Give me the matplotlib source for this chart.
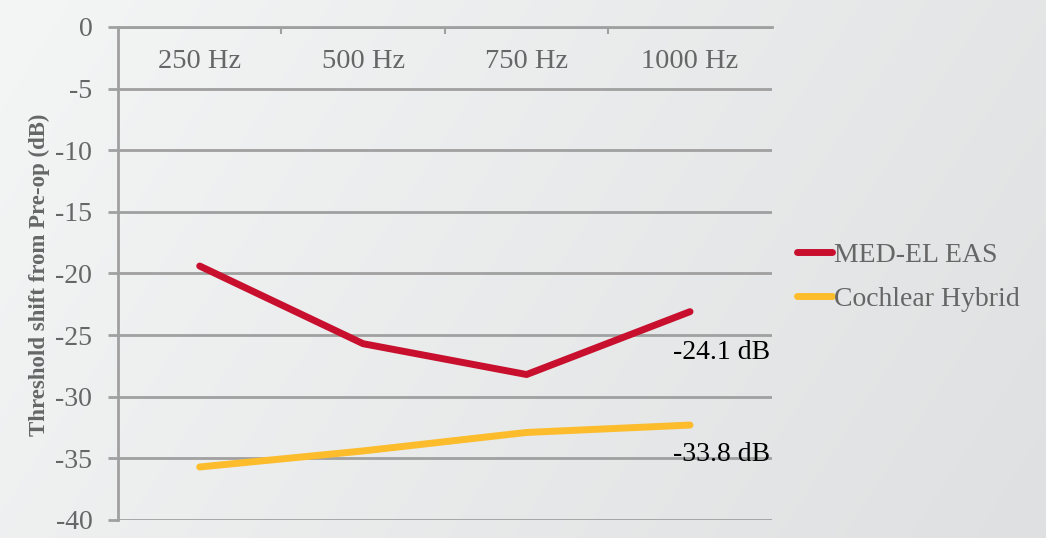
import matplotlib
matplotlib.use("Agg")
import matplotlib.pyplot as plt
import numpy as np
from matplotlib.colors import LinearSegmentedColormap

plt.rcParams["font.family"] = ["Liberation Serif", "DejaVu Serif"]
plt.rcParams["axes.unicode_minus"] = False

# data
categories = ["250 Hz", "500 Hz", "750 Hz", "1000 Hz"]
med_el = [-19.4, -25.7, -28.2, -23.1]
cochlear = [-35.7, -34.4, -32.9, -32.3]
series_names = ["MED-EL EAS", "Cochlear Hybrid"]
notes = ["-24.1 dB", "-33.8 dB"]
note_y = [-26.4, -34.7]
yticks = [0, -5, -10, -15, -20, -25, -30, -35, -40]

RED = "#C8102E"
YELLOW = "#FCBC2C"
GRID = "#A0A0A0"
TXT = "#666666"

fig = plt.figure(figsize=(10.46, 5.38), dpi=100)

# soft diagonal gradient background
bg = fig.add_axes([0, 0, 1, 1], zorder=-10)
gx, gy = np.meshgrid(np.linspace(0, 1, 300), np.linspace(0, 1, 200))
grad = 0.75 * gx + 0.25 * gy
cmap = LinearSegmentedColormap.from_list("bg", ["#f4f5f5", "#dfe0e1"])
bg.imshow(grad, cmap=cmap, aspect="auto", extent=[0, 1, 0, 1], origin="upper")
bg.axis("off")

ax = fig.add_axes([0.1128, 0.0335, 0.625, 0.9165])
ax.patch.set_alpha(0)
x = np.arange(len(categories))

ax.plot(x, med_el, color=RED, lw=5, solid_capstyle="round",
        solid_joinstyle="round", label=series_names[0], zorder=3)
ax.plot(x, cochlear, color=YELLOW, lw=5, solid_capstyle="round",
        solid_joinstyle="round", label=series_names[1], zorder=3)

ax.set_xlim(-0.5, len(categories) - 0.5)
ax.set_ylim(-40, 0)
ax.set_yticks(yticks)
ax.set_yticklabels([str(v) for v in yticks])
ax.yaxis.grid(True, color=GRID, lw=2)
ax.set_axisbelow(True)
ax.tick_params(axis="y", length=7.5, width=2, color=GRID, labelsize=20,
               labelcolor=TXT, pad=11)

# category boundaries as small ticks hanging from the top line
ax.xaxis.tick_top()
ax.set_xticks([])
ax.set_xticks(x[:-1] + 0.5, minor=True)
ax.tick_params(axis="x", which="minor", direction="in", length=5, width=1.5,
               color=GRID, labeltop=False)

for s in ["right", "bottom"]:
    ax.spines[s].set_visible(False)
for s in ["left", "top"]:
    ax.spines[s].set_color(GRID)
    ax.spines[s].set_linewidth(2)

for i, cat in enumerate(categories):
    ax.text(i, -2.8, cat, ha="center", va="center", fontsize=20.5, color=TXT)

for txt, yy in zip(notes, note_y):
    ax.text(3.49, yy, txt, ha="right", va="center", fontsize=20, color="black")

fig.text(39 / 1046, 1 - 275 / 538, "Threshold shift from Pre-op (dB)",
         rotation=90, ha="center", va="center", fontsize=16.5,
         fontweight="bold", color=TXT)

leg = fig.legend(loc="center left", bbox_to_anchor=(0.738, 0.485),
                 frameon=False, fontsize=20, handlelength=1.25,
                 handletextpad=0.1, labelspacing=0.65)
for t in leg.get_texts():
    t.set_color(TXT)
for h in leg.legend_handles:
    h.set_solid_capstyle("round")

fig.savefig("out.png", dpi=100)
